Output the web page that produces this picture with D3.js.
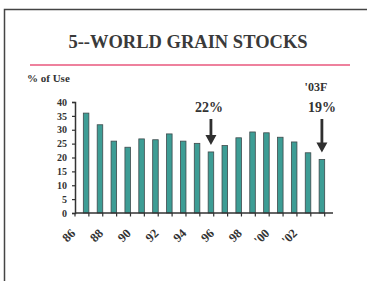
<!DOCTYPE html>
<html lang="en">
<head>
<meta charset="UTF-8">
<title>World Grain Stocks</title>
<script src="https://cdnjs.cloudflare.com/ajax/libs/d3/7.8.5/d3.min.js"></script>
<style>
  body { margin: 0; background: #fff; }
  text { font-family: "Liberation Serif", "DejaVu Serif", serif; font-weight: bold; fill: #333; }
</style>
</head>
<body>
<div id="chart"></div>
<script>
// data
const years = ["86","87","88","89","90","91","92","93","94","95","96","97","98","99","'00","'01","'02","'03"];
const stocks = [36, 31.8, 25.9, 23.7, 26.7, 26.4, 28.5, 25.9, 25.1, 22, 24.3, 27.1, 29.2, 28.9, 27.3, 25.6, 21.7, 19.3];
const labelledYears = ["86","88","90","92","94","96","98","'00","'02"];
const yTicks = [0, 5, 10, 15, 20, 25, 30, 35, 40];
const callouts = [
  { year: "95", label: "22%" },
  { year: "'03", label: "19%", sub: "'03F" }
];

const width = 367, height = 281;
const svg = d3.select('#chart').append('svg')
  .attr('width', width)
  .attr('height', height);

// slide frame (only top + left edges show)
svg.append('path')
  .attr('d', `M4.5,${height} V9.5 H${width}`)
  .attr('fill', 'none')
  .attr('stroke', '#444')
  .attr('stroke-width', 1.5);

// title
svg.append('text')
  .attr('x', 188)
  .attr('y', 48)
  .attr('text-anchor', 'middle')
  .style('font-size', '18.5px')
  .style('fill', '#3a3a3a')
  .text('5--WORLD GRAIN STOCKS');

svg.append('line')
  .attr('x1', 30).attr('x2', 350)
  .attr('y1', 65).attr('y2', 65)
  .attr('stroke', '#e8577c')
  .attr('stroke-width', 1.5);

svg.append('text')
  .attr('x', 27)
  .attr('y', 82)
  .style('font-size', '11px')
  .text('% of Use');

// plot area
const x = d3.scaleBand().domain(years).range([75, 333]).padding(0.6);
const y = d3.scaleLinear().domain([0, 40]).range([213, 102]);

svg.append('g')
  .selectAll('rect')
  .data(stocks)
  .join('rect')
  .attr('x', (d, i) => x(years[i]))
  .attr('y', d => y(d))
  .attr('width', x.bandwidth())
  .attr('height', d => y(0) - y(d))
  .attr('fill', '#3d9d95')
  .attr('stroke', '#3f4a4c')
  .attr('stroke-width', 0.8);

// y axis
const yAxis = svg.append('g')
  .attr('transform', 'translate(75,0)')
  .call(d3.axisLeft(y).tickValues(yTicks).tickSize(3).tickPadding(5));
yAxis.select('.domain').attr('stroke', '#333').attr('stroke-width', 1.5);
yAxis.selectAll('.tick line').attr('stroke', '#333').attr('stroke-width', 1.2);
yAxis.selectAll('.tick text')
  .style('font-size', '10px')
  .style('font-family', '"Liberation Serif", serif')
  .style('font-weight', 'bold')
  .attr('fill', '#333');

// x axis: ticks sit on band boundaries
const step = x.step();
const xBase = svg.append('g');
xBase.append('line')
  .attr('x1', 75).attr('x2', 333)
  .attr('y1', y(0)).attr('y2', y(0))
  .attr('stroke', '#333').attr('stroke-width', 1.5);
xBase.selectAll('.xtick')
  .data(years.concat(['end']))
  .join('line')
  .attr('class', 'xtick')
  .attr('x1', (d, i) => 75 + i * step)
  .attr('x2', (d, i) => 75 + i * step)
  .attr('y1', y(0)).attr('y2', y(0) + 3.5)
  .attr('stroke', '#333').attr('stroke-width', 1.2);

xBase.selectAll('.xlab')
  .data(labelledYears)
  .join('text')
  .attr('class', 'xlab')
  .attr('text-anchor', 'end')
  .style('font-size', '12.5px')
  .attr('transform', d => `translate(${x(d) + x.bandwidth() / 2 - 10},234) rotate(-45)`)
  .text(d => d);

// callouts: labels share one line, arrows run down to just above the bar
const labelY = 112;
const marks = svg.append('g')
  .selectAll('g')
  .data(callouts)
  .join('g')
  .attr('transform', d => `translate(${x(d.year) + x.bandwidth() / 2},0)`);

marks.append('path')
  .attr('d', d => {
    const tip = y(stocks[years.indexOf(d.year)]) - 7;
    return `M-1.4,${labelY + 7} V${tip - 10} H-5.5 L0,${tip} L5.5,${tip - 10} H1.4 V${labelY + 7} Z`;
  })
  .attr('fill', '#2f2f2f');

marks.append('text')
  .attr('x', d => d.sub ? 0 : -2)
  .attr('y', labelY)
  .attr('text-anchor', 'middle')
  .style('font-size', '14px')
  .text(d => d.label);

marks.filter(d => d.sub)
  .append('text')
  .attr('x', -6)
  .attr('y', 91)
  .attr('text-anchor', 'middle')
  .style('font-size', '12px')
  .text(d => d.sub);
</script>
</body>
</html>
